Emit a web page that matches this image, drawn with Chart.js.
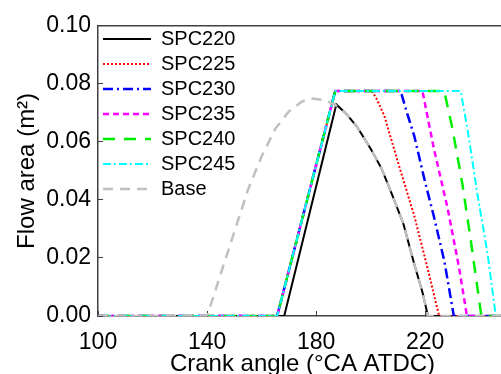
<!DOCTYPE html>
<html>
<head>
<meta charset="utf-8">
<script src="https://cdn.jsdelivr.net/npm/chart.js@4.4.1/dist/chart.umd.min.js"></script>
<style>
html,body{margin:0;padding:0;background:#fff;overflow:hidden}
canvas{display:block}
</style>
</head>
<body>
<canvas id="c" width="507" height="374"></canvas>
<script>
// tick labels
const xTicks = [100,140,180,220]
const yTicks = [0,0.02,0.04,0.06,0.08,0.10]

// crank angle (deg) / flow area (m2)
const baseCa    = [100,140,145,150,155,160,165,170,175,179,183,187,191,195,200,204,208,212,216,219,221,250]
const baseArea  = [0,0,0.0145,0.029,0.0435,0.055,0.0645,0.0705,0.074,0.0749,0.0744,0.0728,0.0697,0.0652,0.0576,0.0508,0.0415,0.0318,0.0178,0.0082,0,0]
const spc220Ca   = [100,168.3,187.4,191,195,200,204,208,212,216,219,221,250]
const spc220Area = [0,0,0.0729,0.0697,0.0652,0.0576,0.0508,0.0415,0.0318,0.0178,0.0082,0,0]
const spc225Ca   = [100,165.7,187,200.4,202,205,210,216,221,225.1,250]
const spc225Area = [0,0,0.0775,0.0775,0.0752,0.069,0.053,0.0345,0.016,0,0]
const spc230Ca   = [100,165.7,187,211,213,216,220,223,227,230.5,250]
const spc230Area = [0,0,0.0775,0.0775,0.071,0.062,0.046,0.035,0.019,0,0]
const spc235Ca   = [100,165.7,187,219,221,223.2,228.2,232.4,235.3,250]
const spc235Area = [0,0,0.0775,0.0775,0.068,0.0576,0.0372,0.0168,0,0]
const spc240Ca   = [100,165.7,187,227,230,233.7,236.7,240.6,250]
const spc240Area = [0,0,0.0775,0.0775,0.0645,0.0451,0.0262,0,0]
const spc245Ca   = [100,165.7,187,233,235.7,239.2,242.9,245.9,250]
const spc245Area = [0,0,0.0775,0.0775,0.0633,0.0417,0.0213,0,0]

const FONT = "'Liberation Sans', Arial, sans-serif"
Chart.defaults.font.family = FONT
Chart.defaults.color = '#000'

const pts = (xs,ys) => xs.map((x,i)=>({x, y:ys[i]}))

const series = [
  {label:'SPC220', ca:spc220Ca, area:spc220Area, color:'#000000', dash:[], w:2},
  {label:'SPC225', ca:spc225Ca, area:spc225Area, color:'#ff0000', dash:[2,2], w:2},
  {label:'SPC230', ca:spc230Ca, area:spc230Area, color:'#0000ff', dash:[10,4,2,4], w:2.5},
  {label:'SPC235', ca:spc235Ca, area:spc235Area, color:'#ff00ff', dash:[6,4], w:2.5},
  {label:'SPC240', ca:spc240Ca, area:spc240Area, color:'#00ee00', dash:[12,9], w:2.5},
  {label:'SPC245', ca:spc245Ca, area:spc245Area, color:'#00ffff', dash:[8,3,2,3], w:2},
  {label:'Base', ca:baseCa, area:baseArea, color:'#c0c0c0', dash:[10,7], w:2.5}
]

const datasets = series.map((s,i)=>({
  label:s.label,
  data:pts(s.ca,s.area),
  borderColor:s.color,
  backgroundColor:s.color,
  borderDash:s.dash,
  borderWidth:s.w,
  pointRadius:0,
  tension:0,
  fill:false,
  order:series.length-1-i
}))

const AXIS = '#404040'
const frame = {
  id:'frame',
  afterDraw(c){
    const {ctx, chartArea:a} = c
    ctx.save()
    ctx.strokeStyle = AXIS
    ctx.lineWidth = 1.5
    ctx.beginPath()
    ctx.moveTo(a.left,a.top)
    ctx.lineTo(a.right,a.top)
    ctx.stroke()
    ctx.restore()
  }
}

// legend line samples take dash/width from the dataset line
const legendLabels = chart =>
  Chart.defaults.plugins.legend.labels.generateLabels(chart).map(l=>{
    const ds = chart.data.datasets[l.datasetIndex]
    return {...l, lineDash:ds.borderDash, lineWidth:ds.borderWidth, strokeStyle:ds.borderColor, pointStyle:'line'}
  })

new Chart(document.getElementById('c'),{
  type:'line',
  data:{datasets},
  plugins:[frame],
  options:{
    responsive:false,
    animation:false,
    layout:{padding:{top:22,right:0,bottom:0,left:0}},
    plugins:{
      tooltip:{enabled:false},
      legend:{
        position:'chartArea',
        align:'start',
        title:{display:true, text:'', padding:0, font:{size:24, lineHeight:1}},
        labels:{
          usePointStyle:true,
          pointStyle:'line',
          pointStyleWidth:48,
          padding:5,
          color:'#000',
          font:{size:20},
          generateLabels:legendLabels,
          sort:(a,b)=>a.datasetIndex-b.datasetIndex
        }
      }
    },
    scales:{
      x:{
        type:'linear', min:100, max:250,
        afterBuildTicks:s=>{ s.ticks = xTicks.map(v=>({value:v})) },
        afterFit:s=>{ s.height = 58 },
        ticks:{font:{size:23}, color:'#000', padding:18, maxRotation:0, autoSkip:false},
        grid:{drawOnChartArea:false, tickLength:-5, color:AXIS, lineWidth:1},
        border:{color:AXIS, width:1.5},
        title:{display:true, text:'Crank angle (°CA ATDC)', font:{size:24, lineHeight:0.8}, color:'#000', padding:0}
      },
      y:{
        min:0, max:0.1,
        afterBuildTicks:s=>{ s.ticks = yTicks.map(v=>({value:v})) },
        afterFit:s=>{ s.width = 98 },
        ticks:{font:{size:23}, color:'#000', padding:12, callback:v=>v.toFixed(2)},
        grid:{drawOnChartArea:false, tickLength:-5, color:AXIS, lineWidth:1},
        border:{color:AXIS, width:1.5},
        title:{display:true, text:'Flow area (m²)', font:{size:24}, color:'#000', padding:{top:12.6, bottom:0}}
      }
    }
  }
})
</script>
</body>
</html>
